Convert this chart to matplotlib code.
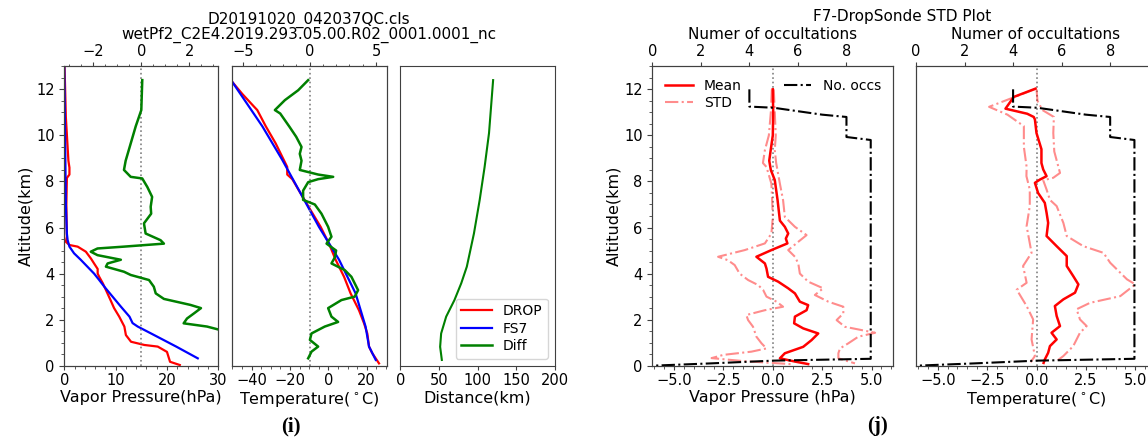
import matplotlib
matplotlib.use("Agg")
import matplotlib.pyplot as plt
from matplotlib.ticker import AutoMinorLocator, MultipleLocator

# ---------- panel (i): one dropsonde vs FS7 ----------
vp_drop_alt = [13.0, 10.8, 8.9, 8.6, 8.3, 8.15, 7.0, 5.6, 5.38, 5.24, 5.17, 4.95, 4.65, 4.44, 4.2, 4.0,
               3.86, 3.58, 3.29, 2.85, 2.5, 2.13, 1.7, 1.33, 1.04, 0.9, 0.83, 0.6, 0.17, 0.03]
vp_drop = [0.05, 0.3, 0.8, 1.0, 1.0, 0.5, 0.4, 0.5, 0.3, 1.0, 2.6, 4.2, 5.2, 5.8, 6.5, 6.5,
           6.8, 7.5, 8.1, 9.0, 9.7, 10.7, 11.7, 12.0, 13.0, 15.6, 18.2, 20.0, 20.6, 22.5]
vp_fs7_alt = [13.0, 11.0, 9.0, 7.0, 5.74, 5.45, 5.17, 4.88, 4.6, 4.3, 4.0, 3.72, 3.43, 3.0, 2.57,
              2.13, 1.85, 1.7, 1.4, 0.83, 0.32]
vp_fs7 = [0.0, 0.1, 0.2, 0.3, 0.5, 0.65, 1.0, 1.9, 3.2, 4.5, 5.8, 6.8, 7.8, 9.4, 11.0,
          12.7, 13.3, 14.3, 16.9, 21.8, 26.0]
vp_diff_alt = [12.4, 11.1, 10.4, 9.65, 8.9, 8.5, 8.2, 8.13, 7.76, 7.33, 6.9, 6.6, 6.18, 5.74, 5.45,
               5.3, 5.17, 5.09, 4.95, 4.8, 4.6, 4.44, 4.3, 4.08, 3.94, 3.72, 3.43, 3.14, 2.9, 2.64,
               2.5, 2.28, 2.05, 1.84, 1.7, 1.55, 1.2, 0.8, 0.3]
vp_diff = [0.04, 0.0, -0.23, -0.44, -0.65, -0.72, -0.44, 0.04, 0.25, 0.45, 0.39, 0.41, 0.11, 0.18, 0.8,
           0.94, -0.72, -1.82, -2.1, -1.82, -0.85, -1.4, -1.47, -0.72, -0.44, 0.32, 0.52, 0.6, 0.94, 2.04,
           2.48, 2.2, 1.9, 1.76, 2.73, 3.28, 4.5, 5.0, 4.0]

t_drop_alt = [12.32, 11.8, 11.25, 11.1, 10.4, 9.65, 8.63, 8.3, 8.1, 7.48, 6.75, 6.03, 5.3, 4.6,
              3.86, 3.14, 2.4, 1.84, 1.4, 0.83, 0.54, 0.1]
t_drop = [-50, -44.8, -38.7, -37, -32.6, -27.4, -21.4, -21.4, -18.75, -14.4, -9.2, -4, 0.35, 3.8,
          8.2, 11.6, 16, 18.6, 20.3, 21.2, 22.9, 26.4]
t_fs7_alt = [12.32, 10.4, 8.94, 7.48, 6.03, 4.6, 3.14, 1.7, 0.83, 0.25]
t_fs7 = [-50, -34.4, -24, -14.4, -4.9, 5.6, 14.2, 19.4, 21.2, 24.7]
t_diff_alt = [12.4, 11.96, 11.53, 11.1, 10.95, 10.66, 10.37, 9.94, 9.5, 9.2, 8.9, 8.5, 8.3, 8.2, 8.1,
              7.97, 7.6, 7.2, 7.0, 6.6, 6.03, 5.6, 5.3, 5.0, 4.7, 4.44, 4.15, 3.86, 3.57, 3.28, 3.0,
              2.85, 2.5, 2.13, 1.9, 1.7, 1.4, 1.12, 0.83, 0.61, 0.32]
t_diff = [-0.1, -0.85, -1.85, -2.6, -2.2, -1.85, -1.5, -1.0, -0.6, -0.73, -0.6, -0.73, 0.65, 1.78, 0.65,
          -0.1, -0.48, -0.48, 0.4, 0.9, 1.4, 1.65, 1.28, 2.0, 1.9, 1.65, 2.65, 3.15, 3.4, 3.65, 3.4,
          2.4, 1.4, 1.65, 2.15, 1.15, 0.15, 0.03, 0.65, 0.15, -0.1]

dist_alt = [12.4, 10.1, 8.63, 7.19, 5.74, 4.3, 3.58, 2.85, 2.13, 1.4, 0.82, 0.25]
dist = [120, 114.7, 109, 102.6, 95.2, 86, 78.8, 70, 59.3, 52.8, 51.5, 53.7]

# ---------- panel (j): statistics ----------
occ_alt = [12.0, 11.25, 11.2, 10.9, 10.8, 9.93, 9.8, 0.3, 0.22, 0.1, 0.0]
occ_n = [4, 4, 5, 7, 8, 8, 9, 9, 5, 2.4, 0]

vpm_alt = [12.0, 11.0, 10.0, 9.4, 8.9, 8.5, 8.06, 7.2, 6.3, 6.03, 5.74, 5.52, 5.31, 5.02, 4.73, 4.44,
           4.22, 3.86, 3.65, 3.36, 3.14, 2.78, 2.63, 2.41, 2.13, 1.84, 1.62, 1.4, 1.11, 0.82, 0.54,
           0.32, 0.18, 0.07]
vp_mean = [0.0, 0.02, 0.0, -0.1, -0.18, -0.1, 0.1, 0.24, 0.36, 0.61, 0.78, 0.66, 0.74, -0.07, -0.83, -0.4,
           -0.32, -0.24, 0.27, 0.78, 1.12, 1.37, 1.79, 1.71, 1.12, 1.08, 1.54, 2.3, 1.96, 1.54, 0.61,
           0.36, 1.12, 1.79]
vpl_alt = [12.0, 11.0, 10.0, 9.36, 8.8, 8.63, 7.9, 6.46, 5.74, 5.31, 5.02, 4.73, 4.58, 4.37, 4.0, 3.72,
           3.5, 3.29, 3.0, 2.78, 2.56, 2.41, 2.2, 1.98, 1.69, 1.26, 0.97, 0.75, 0.61, 0.47, 0.33, 0.2, 0.07]
vp_std_lo = [-0.05, -0.1, -0.2, -0.4, -0.5, -0.32, -0.07, 0.0, -0.07, -0.4, -1.42, -2.77, -2.27, -1.93,
             -1.68, -1.25, -0.74, -0.49, -0.32, 0.19, 0.52, -0.4, -1.34, -1.25, -1.0, -0.83, -0.57, -0.32,
             -1.08, -2.5, -3.1, -1.5, 0.9]
vph_alt = [12.0, 11.0, 10.0, 9.36, 8.8, 7.9, 7.19, 6.46, 6.03, 5.67, 5.38, 5.02, 4.73, 4.44, 4.0, 3.65,
           3.36, 3.07, 2.78, 2.56, 2.27, 1.98, 1.69, 1.43, 1.26, 0.97, 0.75, 0.54, 0.32, 0.1]
vp_std_hi = [0.05, 0.1, 0.15, 0.1, 0.17, 0.36, 0.52, 0.61, 1.12, 1.71, 1.29, 0.78, 1.12, 1.29, 1.37, 1.79,
             2.55, 2.13, 2.81, 3.57, 3.57, 3.23, 3.65, 5.18, 4.33, 3.82, 3.4, 3.32, 3.32, 4.16]

tm_alt = [12.03, 11.67, 11.16, 10.94, 10.8, 10.69, 10.1, 9.4, 8.8, 8.52, 8.23, 8.08, 7.94, 7.5, 7.07, 6.64,
          6.2, 5.63, 5.19, 4.76, 4.33, 3.89, 3.53, 3.17, 2.88, 2.59, 2.16, 1.72, 1.43, 1.14, 0.85,
          0.56, 0.27, 0.12]
t_mean = [-0.05, -1.15, -1.57, -0.47, -0.14, -0.08, 0.0, 0.25, 0.25, 0.34, 0.51, 0.17, -0.08, 0.08, 0.42, 0.51,
          0.59, 0.51, 1.02, 1.53, 1.53, 1.86, 2.12, 1.95, 1.36, 0.93, 1.02, 1.19, 0.76, 1.02, 0.68,
          0.59, 0.42, 0.36]
tl_alt = [12.0, 11.24, 10.9, 10.4, 9.5, 8.63, 8.23, 7.65, 6.93, 6.06, 4.9, 4.33, 3.6, 3.3, 2.59, 2.01,
          1.14, 0.42, 0.15]
t_std_lo = [-0.1, -2.4, -1.47, -0.64, -0.64, -0.5, -0.51, -0.34, -0.34, -0.5, -0.25, -0.68, -0.5, -1.0,
            -0.5, -0.17, -0.25, -0.08, -0.3]
th_alt = [12.0, 11.5, 11.1, 10.8, 10.1, 9.3, 8.66, 8.37, 8.16, 8.05, 7.65, 7.2, 6.93, 6.2, 5.63, 5.19,
          4.9, 4.47, 3.75, 3.53, 3.02, 2.73, 2.45, 2.01, 1.72, 1.43, 0.85, 0.42, 0.2]
t_std_hi = [0.0, 0.05, 0.3, 0.88, 0.85, 0.9, 1.1, 1.19, 0.85, 0.34, 0.51, 0.68, 1.02, 1.36, 1.53, 2.37,
            3.39, 3.73, 4.58, 5.0, 4.24, 2.71, 2.03, 2.2, 2.54, 2.2, 1.86, 1.36, 1.02]

plt.rcParams['font.family'] = 'DejaVu Sans'
plt.rcParams['font.size'] = 11.5
plt.rcParams['xtick.labelsize'] = 10.5
plt.rcParams['ytick.labelsize'] = 10.5
plt.rcParams['xtick.major.size'] = 3.0
plt.rcParams['xtick.minor.size'] = 1.8
plt.rcParams['xtick.major.pad'] = 2.0
plt.rcParams['xtick.minor.pad'] = 2.0
plt.rcParams['axes.labelpad'] = 2.0
plt.rcParams['axes.edgecolor'] = '0.25'
plt.rcParams['xtick.color'] = '0.25'
plt.rcParams['ytick.color'] = '0.25'
plt.rcParams['xtick.labelcolor'] = 'black'
plt.rcParams['ytick.labelcolor'] = 'black'

fig = plt.figure(figsize=(11.48, 4.43), dpi=100)
W, H = 1148.0, 443.0
bot = 1 - 365.7 / H
hgt = (365.7 - 66.3) / H


def box(x0, x1):
    return [x0 / W, bot, (x1 - x0) / W, hgt]


def minor(ax, axis='both'):
    if axis in ('x', 'both'):
        ax.xaxis.set_minor_locator(AutoMinorLocator())
    if axis in ('y', 'both'):
        ax.yaxis.set_minor_locator(AutoMinorLocator())


def no_y(ax):
    ax.tick_params(axis='y', which='both', left=False, labelleft=False)


# (i) vapor pressure
ax1 = fig.add_axes(box(64.3, 218.3))
l_drop, = ax1.plot(vp_drop, vp_drop_alt, color='r', lw=1.6)
l_fs7, = ax1.plot(vp_fs7, vp_fs7_alt, color='b', lw=1.6)
ax1.set_xlim(0, 30)
ax1.set_ylim(0, 13)
ax1.set_xticks([0, 10, 20, 30])
ax1.set_yticks(range(0, 13, 2))
minor(ax1)
ax1.set_xlabel('Vapor Pressure(hPa)')
ax1.set_ylabel('Altitude(km)')
ax1t = ax1.twiny()
ax1t.axvline(0, color='gray', ls=':', lw=1.2)
l_diff, = ax1t.plot(vp_diff, vp_diff_alt, color='g', lw=1.8)
ax1t.set_xlim(-3.2, 3.2)
ax1t.set_xticks([-2, 0, 2])
minor(ax1t, 'x')

# (i) temperature
ax2 = fig.add_axes(box(232.3, 386.7))
ax2.plot(t_drop, t_drop_alt, color='r', lw=1.6)
ax2.plot(t_fs7, t_fs7_alt, color='b', lw=1.6)
ax2.set_xlim(-50, 30.4)
ax2.set_ylim(0, 13)
ax2.set_xticks([-40, -20, 0, 20])
minor(ax2, 'x')
no_y(ax2)
ax2.set_xlabel('Temperature($^\\circ$C)')
ax2t = ax2.twiny()
ax2t.axvline(0, color='gray', ls=':', lw=1.2)
ax2t.plot(t_diff, t_diff_alt, color='g', lw=1.8)
ax2t.set_xlim(-5.8, 5.8)
ax2t.set_xticks([-5, 0, 5])
minor(ax2t, 'x')

# (i) distance
ax3 = fig.add_axes(box(400.3, 555.0))
ax3.plot(dist, dist_alt, color='g', lw=1.5)
ax3.set_xlim(0, 200)
ax3.set_ylim(0, 13)
ax3.set_xticks([0, 50, 100, 150, 200])
no_y(ax3)
ax3.set_xlabel('Distance(km)')
ax3.legend([l_drop, l_fs7, l_diff], ['DROP', 'FS7', 'Diff'], loc='lower right', fontsize=10,
           labelspacing=0.25, handlelength=2.2)

fig.text(309 / W, 1 - 23.5 / H, 'D20191020_042037QC.cls', ha='center', va='baseline', fontsize=11)
fig.text(309 / W, 1 - 38.5 / H, 'wetPf2_C2E4.2019.293.05.00.R02_0001.0001_nc', ha='center',
         va='baseline', fontsize=11)
fig.text(291 / W, 1 - 426 / H, '(i)', ha='center', va='center', fontsize=15,
         family='Liberation Serif', weight='bold')

# (j) vapor pressure statistics
ax4 = fig.add_axes(box(652.3, 893.3))
ax4.axvline(0, color='gray', ls=':', lw=1.2)
ax4.plot(vp_mean, vpm_alt, color='r', lw=1.8, label='Mean')
ax4.plot(vp_std_lo, vpl_alt, color='r', alpha=0.45, ls='-.', lw=1.5, label='STD')
ax4.plot(vp_std_hi, vph_alt, color='r', alpha=0.45, ls='-.', lw=1.5)
ax4.set_xlim(-6.1, 6.1)
ax4.set_ylim(0, 13)
ax4.xaxis.set_major_locator(MultipleLocator(2.5))
ax4.set_yticks(range(0, 13, 2))
minor(ax4)
ax4.set_xlabel('Vapor Pressure (hPa)')
ax4.set_ylabel('Altitude(km)')
ax4.legend(loc='upper left', frameon=False, fontsize=10, labelspacing=0.25)
ax4t = ax4.twiny()
ax4t.plot(occ_n, occ_alt, color='k', ls='-.', lw=1.5, label='No. occs')
ax4t.set_xlim(0, 9.93)
ax4t.set_xticks([0, 2, 4, 6, 8])
ax4t.legend(loc='upper right', frameon=False, fontsize=10)

# (j) temperature statistics
ax5 = fig.add_axes(box(916.0, 1157.0))
ax5.axvline(0, color='gray', ls=':', lw=1.2)
ax5.plot(t_mean, tm_alt, color='r', lw=1.8)
ax5.plot(t_std_lo, tl_alt, color='r', alpha=0.45, ls='-.', lw=1.5)
ax5.plot(t_std_hi, th_alt, color='r', alpha=0.45, ls='-.', lw=1.5)
ax5.set_xlim(-6.1, 6.1)
ax5.set_ylim(0, 13)
ax5.xaxis.set_major_locator(MultipleLocator(2.5))
minor(ax5, 'x')
no_y(ax5)
ax5.set_xlabel('Temperature($^\\circ$C)')
ax5t = ax5.twiny()
ax5t.plot(occ_n, occ_alt, color='k', ls='-.', lw=1.5)
ax5t.set_xlim(0, 9.93)
ax5t.set_xticks([0, 2, 4, 6, 8])

for xc in [772.5, 1036.0]:
    fig.text(xc / W, 1 - 39 / H, 'Numer of occultations', ha='center', va='baseline', fontsize=11)
fig.text(902 / W, 1 - 21.5 / H, 'F7-DropSonde STD Plot', ha='center', va='baseline', fontsize=11)
fig.text(877 / W, 1 - 426 / H, '(j)', ha='center', va='center', fontsize=15,
         family='Liberation Serif', weight='bold')

fig.savefig('out.png', dpi=100)
